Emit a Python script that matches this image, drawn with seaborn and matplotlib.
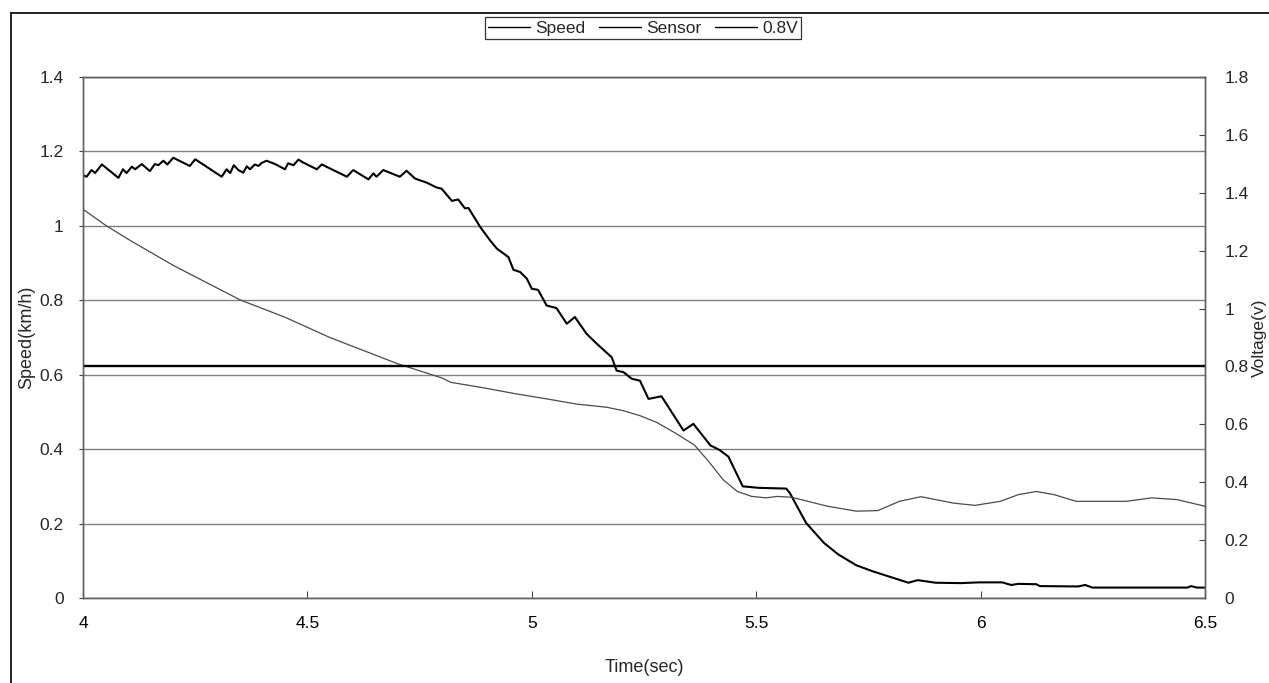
import matplotlib
matplotlib.use("Agg")
import matplotlib.pyplot as plt
import seaborn as sns
from matplotlib.lines import Line2D

# Measured wheel speed (km/h) over time (s)
speed_time = [
    4.000, 4.008, 4.019, 4.027, 4.042, 4.079, 4.089, 4.097, 4.109, 4.116,
    4.131, 4.149, 4.160, 4.168, 4.179, 4.188, 4.201, 4.238, 4.250, 4.309,
    4.320, 4.328, 4.336, 4.346, 4.357, 4.365, 4.372, 4.383, 4.391, 4.398,
    4.409, 4.428, 4.450, 4.457, 4.469, 4.480, 4.491, 4.521, 4.532, 4.588,
    4.602, 4.636, 4.647, 4.654, 4.669, 4.706, 4.721, 4.740, 4.766, 4.788,
    4.799, 4.822, 4.836, 4.851, 4.859, 4.885, 4.907, 4.922, 4.948, 4.959,
    4.974, 4.989, 5.000, 5.014, 5.033, 5.055, 5.078, 5.096, 5.122, 5.145,
    5.178, 5.189, 5.204, 5.223, 5.241, 5.260, 5.289, 5.338, 5.360, 5.398,
    5.418, 5.438, 5.470, 5.506, 5.567, 5.575, 5.611, 5.651, 5.683, 5.723,
    5.759, 5.803, 5.839, 5.860, 5.900, 5.956, 5.996, 6.048, 6.068, 6.084,
    6.124, 6.132, 6.217, 6.233, 6.249, 6.461, 6.469, 6.482, 6.500,
]
speed_kmh = [
    1.136, 1.132, 1.150, 1.142, 1.165, 1.129, 1.152, 1.142, 1.159, 1.152,
    1.166, 1.147, 1.166, 1.163, 1.175, 1.165, 1.183, 1.161, 1.179, 1.132,
    1.152, 1.142, 1.163, 1.150, 1.143, 1.160, 1.152, 1.165, 1.161, 1.169,
    1.175, 1.166, 1.152, 1.168, 1.163, 1.178, 1.170, 1.152, 1.165, 1.132,
    1.150, 1.125, 1.141, 1.132, 1.150, 1.132, 1.148, 1.127, 1.116, 1.103,
    1.100, 1.067, 1.071, 1.047, 1.048, 0.997, 0.961, 0.939, 0.916, 0.882,
    0.876, 0.858, 0.831, 0.828, 0.786, 0.779, 0.737, 0.755, 0.710, 0.683,
    0.647, 0.611, 0.607, 0.589, 0.584, 0.535, 0.542, 0.450, 0.468, 0.410,
    0.398, 0.380, 0.300, 0.296, 0.294, 0.282, 0.202, 0.148, 0.117, 0.088,
    0.072, 0.055, 0.041, 0.048, 0.041, 0.040, 0.042, 0.042, 0.035, 0.038,
    0.037, 0.032, 0.031, 0.035, 0.028, 0.028, 0.032, 0.028, 0.028,
]

# Sensor output voltage (V) over time (s)
sensor_time = [
    4.000, 4.050, 4.100, 4.150, 4.200, 4.250, 4.300, 4.350, 4.400, 4.450,
    4.500, 4.550, 4.600, 4.650, 4.700, 4.750, 4.800, 4.820, 4.893, 4.966,
    5.033, 5.100, 5.167, 5.204, 5.241, 5.278, 5.323, 5.338, 5.362, 5.394,
    5.426, 5.458, 5.490, 5.522, 5.547, 5.579, 5.659, 5.723, 5.771, 5.819,
    5.867, 5.939, 5.987, 6.044, 6.084, 6.124, 6.164, 6.213, 6.325, 6.381,
    6.437, 6.500,
]
sensor_volt = [
    1.343, 1.288, 1.240, 1.195, 1.150, 1.110, 1.070, 1.030, 1.000, 0.970,
    0.935, 0.900, 0.870, 0.840, 0.810, 0.785, 0.760, 0.745, 0.726, 0.705,
    0.688, 0.670, 0.659, 0.647, 0.630, 0.607, 0.567, 0.552, 0.529, 0.472,
    0.409, 0.368, 0.351, 0.346, 0.351, 0.348, 0.317, 0.300, 0.302, 0.334,
    0.350, 0.328, 0.320, 0.334, 0.357, 0.368, 0.357, 0.334, 0.334, 0.346,
    0.340, 0.317,
]

# 0.8 V reference level
ref_time = [4.0, 6.5]
ref_volt = [0.8, 0.8]

x_ticks = [4.0, 4.5, 5.0, 5.5, 6.0, 6.5]
x_tick_labels = ["4", "4.5", "5", "5.5", "6", "6.5"]
speed_ticks = [0.0, 0.2, 0.4, 0.6, 0.8, 1.0, 1.2, 1.4]
speed_tick_labels = ["0", "0.2", "0.4", "0.6", "0.8", "1", "1.2", "1.4"]
volt_ticks = [0.0, 0.2, 0.4, 0.6, 0.8, 1.0, 1.2, 1.4, 1.6, 1.8]
volt_tick_labels = ["0", "0.2", "0.4", "0.6", "0.8", "1", "1.2", "1.4", "1.6", "1.8"]

sns.set_theme(style="white")
plt.rcParams["font.family"] = ["Liberation Sans", "DejaVu Sans"]

W, H = 1269, 683
fig = plt.figure(figsize=(W / 100, H / 100), dpi=100)
ax = fig.add_axes([83 / W, 1 - 598 / H, (1205 - 83) / W, (598 - 77) / H])
ax2 = ax.twinx()

sns.lineplot(x=speed_time, y=speed_kmh, ax=ax, color="black", lw=1.5,
             label="Speed", legend=False)
sns.lineplot(x=sensor_time, y=sensor_volt, ax=ax2, color="#4a4a4a", lw=0.9,
             label="Sensor", legend=False)
sns.lineplot(x=ref_time, y=ref_volt, ax=ax2, color="black", lw=1.7,
             label="0.8V", legend=False)

ax.set_xlim(4.0, 6.5)
ax.set_ylim(0, 1.4)
ax2.set_ylim(0, 1.8)

ax.set_xticks(x_ticks)
ax.set_xticklabels(x_tick_labels)
ax.set_yticks(speed_ticks)
ax.set_yticklabels(speed_tick_labels)
ax2.set_yticks(volt_ticks)
ax2.set_yticklabels(volt_tick_labels)

ax.set_axisbelow(True)
ax.yaxis.grid(True, color="#808080", lw=1.0)
ax.xaxis.grid(False)

fs = 12.5
ax.tick_params(axis="x", direction="in", length=5, width=0.8, color="#444",
               pad=13, labelsize=fs, colors="black", bottom=True)
ax.tick_params(axis="y", direction="out", length=3, width=0.8, color="#444",
               pad=11, labelsize=fs, left=True)
ax2.tick_params(axis="y", direction="in", length=4, width=0.8, color="#444",
                pad=14, labelsize=fs, right=True)

for a in (ax, ax2):
    for s in a.spines.values():
        s.set_color("#606060")
        s.set_linewidth(1.0)
        s.set_visible(True)

ax.set_xlabel("Time(sec)", fontsize=13)
ax.set_ylabel("Speed(km/h)", fontsize=13)
ax2.set_ylabel("Voltage(v)", fontsize=12.5, rotation=90)
ax.xaxis.set_label_coords(0.5, -0.118)
ax.yaxis.set_label_coords(-0.043, 0.5)
ax2.yaxis.set_label_coords(1.0415, 0.5)

h1, l1 = ax.get_legend_handles_labels()
h2, l2 = ax2.get_legend_handles_labels()
leg = fig.legend(h1 + h2, l1 + l2, loc="upper center",
                 bbox_to_anchor=(643 / W, 1 - 17 / H), ncol=3, frameon=True,
                 fancybox=False, edgecolor="black", fontsize=12.5,
                 handlelength=2.4, handletextpad=0.3, columnspacing=0.8,
                 borderpad=0.2, borderaxespad=0)
leg.get_frame().set_linewidth(0.9)
for line in leg.get_lines():
    line.set_color("black")
    line.set_linewidth(1.0)

# outer chart-area border (left and top edges)
fig.add_artist(Line2D([11 / W, 11 / W], [0.0, 1 - 13 / H],
                      transform=fig.transFigure, color="black", lw=1.2))
fig.add_artist(Line2D([11 / W, 1.0], [1 - 13 / H, 1 - 13 / H],
                      transform=fig.transFigure, color="black", lw=1.2))

fig.savefig("out.png", dpi=100)
